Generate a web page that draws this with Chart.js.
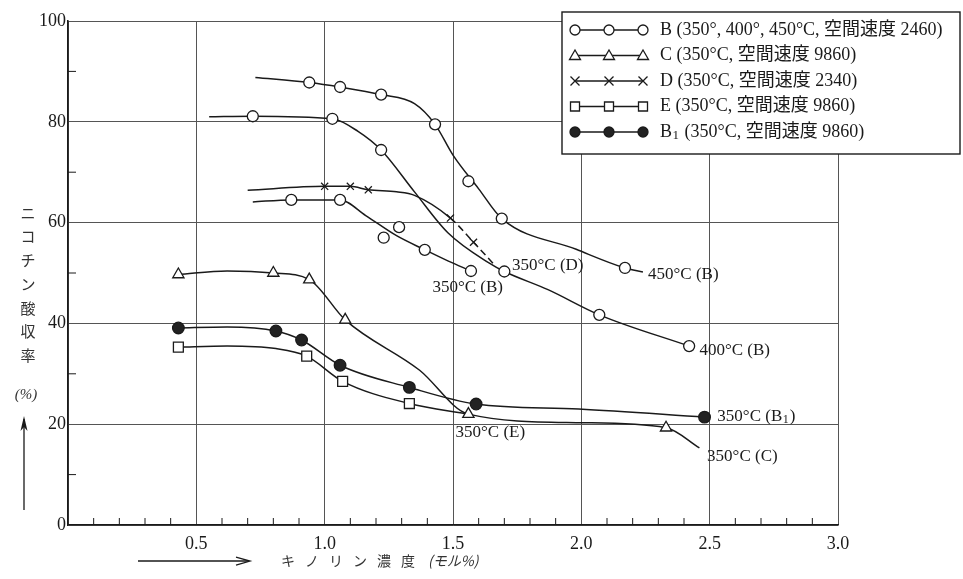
<!DOCTYPE html>
<html>
<head>
<meta charset="utf-8">
<script src="https://cdn.jsdelivr.net/npm/chart.js@4.4.0/dist/chart.umd.min.js"></script>
<style>
html, body { margin: 0; padding: 0; background: #fff; }
</style>
</head>
<body>
<canvas id="chart" width="963" height="579"></canvas>
<script>
// values: [キノリン濃度 (モル%), ニコチン酸収率 (%)]
const b450Curve = [[0.73, 88.8], [0.94, 87.8], [1.06, 86.9], [1.22, 85.4], [1.35, 83.6], [1.43, 79.5], [1.50, 73.4], [1.60, 66.7], [1.69, 60.8], [1.98, 54.7], [2.17, 51.0], [2.24, 50.2]];
const b450Pts = [[0.94, 87.8], [1.06, 86.9], [1.22, 85.4], [1.43, 79.5], [1.56, 68.2], [1.69, 60.8], [2.17, 51.0]];

const b400Curve = [[0.55, 81.0], [0.72, 81.1], [1.03, 80.6], [1.13, 78.1], [1.22, 74.4], [1.35, 66.1], [1.48, 58.0], [1.64, 52.0], [1.70, 50.3], [1.87, 46.7], [2.07, 41.7], [2.42, 35.5]];
const b400Pts = [[0.72, 81.1], [1.03, 80.6], [1.22, 74.4], [1.70, 50.3], [2.07, 41.7], [2.42, 35.5]];

const b350Curve = [[0.72, 64.1], [0.87, 64.5], [1.06, 64.5], [1.16, 61.4], [1.28, 57.4], [1.39, 54.6], [1.48, 52.4], [1.57, 50.4]];
const b350Pts = [[0.87, 64.5], [1.06, 64.5], [1.23, 57.0], [1.29, 59.1], [1.39, 54.6], [1.57, 50.4]];

const dCurve = [[0.70, 66.4], [1.00, 67.2], [1.10, 67.2], [1.17, 66.5], [1.28, 66.1], [1.35, 65.4], [1.49, 60.9], [1.58, 56.1], [1.66, 51.7]];
const dPts = [[1.00, 67.2], [1.10, 67.2], [1.17, 66.5], [1.49, 60.9], [1.58, 56.1]];

const cCurve = [[0.43, 49.7], [0.62, 50.4], [0.80, 50.0], [0.94, 48.7], [1.08, 40.7], [1.37, 30.7], [1.56, 22.0], [1.99, 20.3], [2.33, 19.3], [2.46, 15.3]];
const cPts = [[0.43, 49.7], [0.80, 50.0], [0.94, 48.7], [1.08, 40.7], [1.56, 22.0], [2.33, 19.3]];

const b1Curve = [[0.43, 39.1], [0.62, 39.3], [0.81, 38.5], [0.91, 36.7], [1.06, 31.7], [1.33, 27.3], [1.59, 24.0], [1.99, 23.0], [2.48, 21.4]];
const b1Pts = [[0.43, 39.1], [0.81, 38.5], [0.91, 36.7], [1.06, 31.7], [1.33, 27.3], [1.59, 24.0], [2.48, 21.4]];

const eCurve = [[0.43, 35.3], [0.62, 35.5], [0.81, 35.0], [0.93, 33.5], [1.07, 28.5], [1.33, 24.1], [1.56, 22.0]];
const ePts = [[0.43, 35.3], [0.93, 33.5], [1.07, 28.5], [1.33, 24.1]];

// curve end labels, anchored in data units
const curveLabels = [
    { text: '450°C (B)', x: 2.26, y: 49.7 },
    { text: '350°C (D)', x: 1.73, y: 51.4 },
    { text: '350°C (B)', x: 1.42, y: 47.2 },
    { text: '400°C (B)', x: 2.46, y: 34.7 },
    { text: '350°C (B', sub: '1', tail: ')', x: 2.53, y: 21.6 },
    { text: '350°C (E)', x: 1.51, y: 18.3 },
    { text: '350°C (C)', x: 2.49, y: 13.6 }
];

const legendItems = [
    { style: 'circle', fill: '#fff', text: 'B (350°, 400°, 450°C, 空間速度 2460)' },
    { style: 'triangle', fill: '#fff', text: 'C (350°C, 空間速度 9860)' },
    { style: 'cross', fill: '#fff', text: 'D (350°C, 空間速度 2340)' },
    { style: 'rect', fill: '#fff', text: 'E (350°C, 空間速度 9860)' },
    { style: 'circle', fill: '#222', text: 'B', sub: '1', tail: ' (350°C, 空間速度 9860)' }
];

const xTitle = 'キノリン濃度';
const xUnit = '(モル%)';
const yTitle = 'ニコチン酸収率';
const yUnit = '(%)';

const toXY = arr => arr.map(p => ({ x: p[0], y: p[1] }));
const SERIF = '"Liberation Serif", "Noto Sans CJK JP", serif';
const INK = '#1a1a1a';

function curve(data, dashed) {
    return {
        data: toXY(data),
        showLine: true,
        borderColor: INK,
        borderWidth: 1.5,
        pointRadius: 0,
        cubicInterpolationMode: 'monotone',
        order: 2,
        segment: dashed ? { borderDash: c => c.p0.parsed.x >= 1.38 ? [7, 4] : undefined } : undefined
    };
}
function marks(data, style, radius, fill) {
    return {
        data: toXY(data),
        showLine: false,
        pointStyle: style,
        pointRadius: radius,
        pointBackgroundColor: fill,
        pointBorderColor: INK,
        pointBorderWidth: 1.3,
        order: 1
    };
}

// small marker for the hand drawn legend
function drawMark(ctx, style, x, y, fill) {
    ctx.save();
    ctx.fillStyle = fill;
    ctx.strokeStyle = INK;
    ctx.lineWidth = 1.3;
    ctx.beginPath();
    if (style === 'circle') {
        ctx.arc(x, y, 5, 0, Math.PI * 2);
    } else if (style === 'triangle') {
        ctx.moveTo(x, y - 5.5);
        ctx.lineTo(x + 5.5, y + 4);
        ctx.lineTo(x - 5.5, y + 4);
        ctx.closePath();
    } else if (style === 'rect') {
        ctx.rect(x - 4.5, y - 4.5, 9, 9);
    } else if (style === 'cross') {
        ctx.moveTo(x - 4.5, y - 4.5); ctx.lineTo(x + 4.5, y + 4.5);
        ctx.moveTo(x + 4.5, y - 4.5); ctx.lineTo(x - 4.5, y + 4.5);
        ctx.stroke();
        ctx.restore();
        return;
    }
    ctx.fill();
    ctx.stroke();
    ctx.restore();
}

// text with an optional subscript part
function drawRich(ctx, item, x, y, size) {
    ctx.font = size + 'px ' + SERIF;
    ctx.fillText(item.text, x, y);
    if (item.sub) {
        let w = ctx.measureText(item.text).width;
        ctx.font = Math.round(size * 0.7) + 'px ' + SERIF;
        ctx.fillText(item.sub, x + w + 0.5, y + 4);
        let w2 = ctx.measureText(item.sub).width;
        ctx.font = size + 'px ' + SERIF;
        ctx.fillText(item.tail || '', x + w + w2 + 1.5, y);
    }
}

const decor = {
    id: 'decor',
    afterDatasetsDraw(chart) {
        const ctx = chart.ctx;
        const xs = chart.scales.x, ys = chart.scales.y;
        const area = chart.chartArea;
        ctx.save();
        ctx.strokeStyle = INK;
        ctx.lineWidth = 1;
        // minor ticks, drawn inward
        for (let i = 1; i < 30; i++) {
            if (i % 5 === 0) continue;
            const px = xs.getPixelForValue(i / 10);
            ctx.beginPath();
            ctx.moveTo(px, area.bottom);
            ctx.lineTo(px, area.bottom - 7);
            ctx.stroke();
        }
        for (let v = 10; v < 100; v += 20) {
            const py = ys.getPixelForValue(v);
            ctx.beginPath();
            ctx.moveTo(area.left, py);
            ctx.lineTo(area.left + 8, py);
            ctx.stroke();
        }

        // curve labels
        ctx.fillStyle = INK;
        ctx.textBaseline = 'middle';
        ctx.textAlign = 'left';
        curveLabels.forEach(l => {
            drawRich(ctx, l, xs.getPixelForValue(l.x), ys.getPixelForValue(l.y), 17);
        });

        // legend box
        const lx = 562, ly = 12, lw = 398, rowH = 25.5;
        const lh = 142;
        ctx.fillStyle = '#fff';
        ctx.fillRect(lx, ly, lw, lh);
        ctx.lineWidth = 1.4;
        ctx.strokeRect(lx, ly, lw, lh);
        legendItems.forEach((it, i) => {
            const cy = ly + 18 + i * rowH;
            ctx.lineWidth = 1.3;
            ctx.beginPath();
            ctx.moveTo(575, cy);
            ctx.lineTo(643, cy);
            ctx.stroke();
            [575, 609, 643].forEach(mx => drawMark(ctx, it.style, mx, cy, it.fill));
            ctx.fillStyle = INK;
            drawRich(ctx, it, 660, cy, 18);
        });

        // y title: upright characters stacked
        ctx.font = '15px "Noto Sans CJK JP", sans-serif';
        ctx.textAlign = 'center';
        ctx.fillStyle = '#333';
        Array.from(yTitle).forEach((ch, i) => {
            ctx.fillText(ch, 28, 213 + i * 23.7);
        });
        ctx.font = 'italic 15px ' + SERIF;
        ctx.fillText(yUnit, 26, 395);
        // arrow up
        ctx.strokeStyle = INK;
        ctx.lineWidth = 1.3;
        ctx.beginPath();
        ctx.moveTo(24, 510);
        ctx.lineTo(24, 419);
        ctx.stroke();
        ctx.beginPath();
        ctx.moveTo(24, 416);
        ctx.lineTo(20.5, 431);
        ctx.lineTo(24, 427);
        ctx.lineTo(27.5, 431);
        ctx.closePath();
        ctx.fillStyle = INK;
        ctx.fill();

        // x title with arrow
        const ty = 561;
        ctx.beginPath();
        ctx.moveTo(138, ty);
        ctx.lineTo(248, ty);
        ctx.stroke();
        ctx.beginPath();
        ctx.moveTo(236, ty - 4);
        ctx.lineTo(250, ty);
        ctx.lineTo(236, ty + 4);
        ctx.stroke();
        ctx.font = '14px "Noto Sans CJK JP", sans-serif';
        ctx.textAlign = 'left';
        ctx.fillStyle = '#333';
        Array.from(xTitle).forEach((ch, i) => {
            ctx.fillText(ch, 281 + i * 24, ty);
        });
        ctx.font = 'italic 14px "Noto Sans CJK JP", sans-serif';
        ctx.fillText(xUnit, 428, ty);
        ctx.restore();
    }
};

const ctx = document.getElementById('chart').getContext('2d');
const chart = new Chart(ctx, {
    type: 'scatter',
    data: {
        datasets: [
            curve(b450Curve), curve(b400Curve), curve(b350Curve), curve(dCurve, true),
            curve(cCurve), curve(b1Curve), curve(eCurve),
            marks(b450Pts, 'circle', 5.5, '#fff'),
            marks(b400Pts, 'circle', 5.5, '#fff'),
            marks(b350Pts, 'circle', 5.5, '#fff'),
            marks(dPts, 'crossRot', 5, '#fff'),
            marks(cPts, 'triangle', 6.5, '#fff'),
            marks(b1Pts, 'circle', 5.8, '#222'),
            marks(ePts, 'rect', 7, '#fff')
        ]
    },
    options: {
        responsive: false,
        animation: false,
        devicePixelRatio: 1,
        layout: { padding: { top: 21, right: 125, left: 0, bottom: 0 } },
        plugins: { legend: { display: false }, tooltip: { enabled: false } },
        scales: {
            x: {
                type: 'linear',
                min: 0,
                max: 3,
                ticks: {
                    stepSize: 0.5,
                    padding: 8,
                    maxRotation: 0,
                    color: INK,
                    font: { family: SERIF, size: 18 },
                    callback: v => v === 0 ? '' : v.toFixed(1)
                },
                grid: { color: '#555', lineWidth: 1, drawTicks: false },
                border: { color: INK, width: 1.6 },
                afterFit: s => { s.height = 54; }
            },
            y: {
                min: 0,
                max: 100,
                ticks: {
                    stepSize: 20,
                    padding: 2,
                    color: INK,
                    font: { family: SERIF, size: 18 }
                },
                grid: { color: '#555', lineWidth: 1, drawTicks: false },
                border: { color: INK, width: 1.6 },
                afterFit: s => { s.width = 68; }
            }
        }
    },
    plugins: [decor]
});
</script>
</body>
</html>
